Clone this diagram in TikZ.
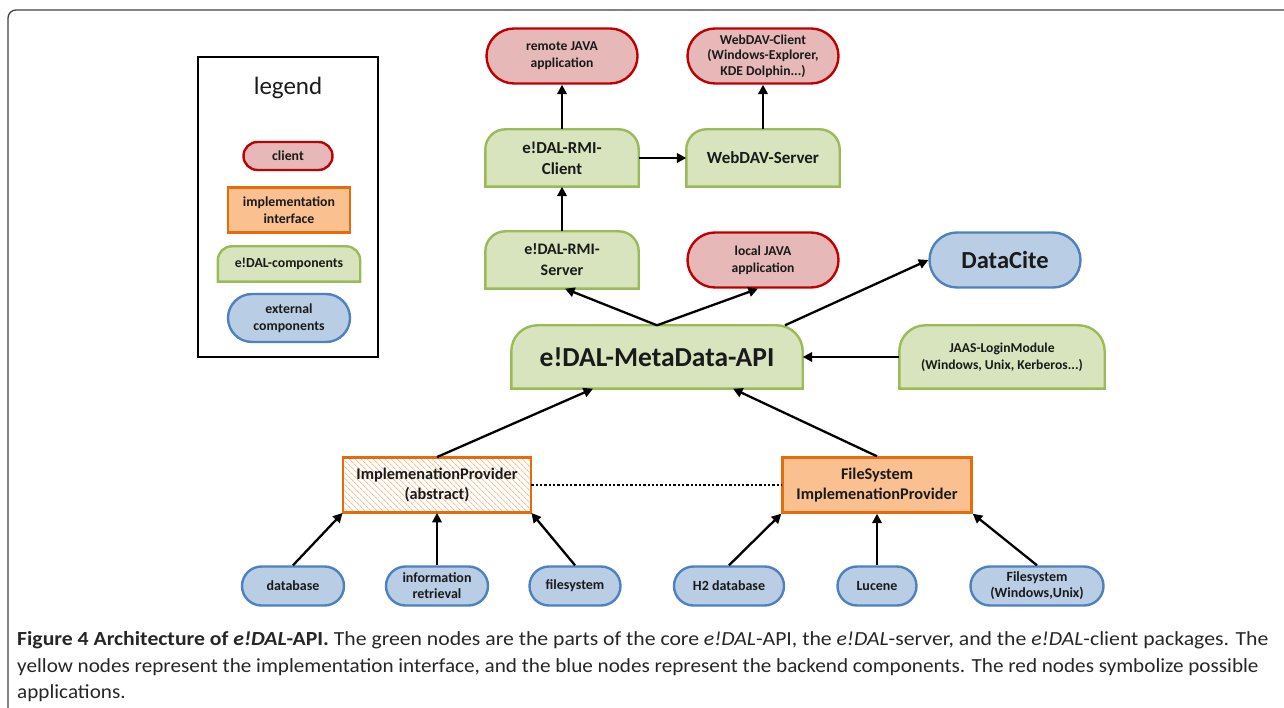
\documentclass[tikz,border=0pt]{standalone}
\usepackage{fontspec}
\setmainfont{Carlito}
\newfontfamily\capfont{Carlito}[FakeStretch=1.085]
\newfontfamily\capfontb{Carlito}[FakeStretch=1.058]
\usetikzlibrary{shapes.misc,arrows.meta,backgrounds,patterns.meta}
\definecolor{redF}{HTML}{E6B9B8}\definecolor{redD}{HTML}{C00000}
\definecolor{orF}{HTML}{FAC090}\definecolor{orD}{HTML}{E46C0A}
\definecolor{grF}{HTML}{D7E4BD}\definecolor{grD}{HTML}{9BBB59}
\definecolor{blF}{HTML}{B9CDE5}\definecolor{blD}{HTML}{4F81BD}
\definecolor{txt}{HTML}{1A1A1A}
\tikzset{
 base/.style={align=center,font=\bfseries,text=txt,inner sep=0pt,line width=2.4pt},
 client/.style={base,rounded rectangle,draw=redD,fill=redF},
 extc/.style={base,rounded rectangle,draw=blD,fill=blF},
 impl/.style={base,rectangle,draw=orD,fill=orF},
 comp/.style={base,rectangle},
 gshape/.style={draw=grD,fill=grF,line width=2.4pt},
 arr/.style={line width=2.3pt,-{Triangle[length=9.5pt,width=9.5pt]}},
 sz/.style 2 args={minimum width=#1pt,minimum height=#2pt},
 captxt/.style={anchor=base west,inner sep=0pt,text=black!85},
}
\newcommand\gfs[2]{\fontsize{#1}{#2}\selectfont}
\begin{document}
\begin{tikzpicture}[x=1pt,y=1pt]
\useasboundingbox (0,0) rectangle (1284,707);
\draw[black!75,line width=1.3pt] (8,-5) -- (8,689) arc[start angle=180,end angle=90,radius=8] -- (1290,697);
% legend
\draw[line width=2pt] (198,650) rectangle (378,350);
\node[font=\gfs{25}{28},text=txt] (lt) at (288,619) {legend};
\node[client,sz={89}{28},font=\bfseries\gfs{13.8}{16}] (lc) at (288,551) {client};
\node[impl,sz={122}{45},font=\bfseries\gfs{13.8}{16.5}] (li) at (289,497) {implementation\\interface};
\node[comp,sz={140}{33},font=\bfseries\gfs{13.8}{16}] (lg) at (289,443) {e!DAL-components};
\node[extc,sz={122}{48},font=\bfseries\gfs{13.8}{16.5}] (le) at (289,389) {external\\components};
% top
\node[client,sz={151}{55},font=\bfseries\gfs{13.6}{17}] (remote) at (562,651) {remote JAVA\\application};
\node[client,sz={151}{55},font=\bfseries\gfs{13.6}{15.5}] (wdc) at (763,651) {WebDAV-Client\\(Windows-Explorer,\\KDE Dolphin...)};
\node[comp,sz={151}{55},font=\bfseries\gfs{16.8}{21}] (rmic) at (562,549) {e!DAL-RMI-\\Client};
\node[comp,sz={151}{55},font=\bfseries\gfs{17}{21}] (wds) at (763,549) {WebDAV-Server};
\node[comp,sz={151}{55},font=\bfseries\gfs{16}{21}] (rmis) at (562,447) {e!DAL-RMI-\\Server};
\node[client,sz={151}{55},font=\bfseries\gfs{13.6}{17}] (local) at (763,447) {local JAVA\\application};
\node[comp,sz={289}{61},font=\bfseries\gfs{27.5}{30}] (meta) at (657,350) {e!DAL-MetaData-API};
\node[extc,sz={151}{55},font=\bfseries\gfs{24.5}{28}] (dc) at (1005,447) {DataCite};
\node[comp,sz={203}{61},font=\bfseries\gfs{13.6}{17}] (jaas) at (1002,350) {JAAS-LoginModule\\(Windows, Unix, Kerberos...)};
% providers
\node[impl,fill=none,sz={188}{55},font=\bfseries\gfs{16.3}{20},
  pattern={Lines[angle=-45,distance=4pt,line width=0.9pt]},pattern color=orF] (ip) at (437,222) {ImplemenationProvider\\(abstract)};
\node[impl,sz={189}{55},font=\bfseries\gfs{16.3}{20}] (fsp) at (877,222) {FileSystem\\ImplemenationProvider};
% bottom
\node[extc,sz={102}{39},font=\bfseries\gfs{14}{16}] (db) at (293,121) {database};
\node[extc,sz={102}{39},font=\bfseries\gfs{14}{16}] (ir) at (437,121) {information\\retrieval};
\node[extc,sz={91}{39},font=\bfseries\gfs{14}{16}] (fs) at (575,121) {filesystem};
\node[extc,sz={110}{39},font=\bfseries\gfs{14}{16}] (h2) at (729,121) {H2 database};
\node[extc,sz={79}{39},font=\bfseries\gfs{14}{16}] (luc) at (877,121) {Lucene};
\node[extc,sz={133}{39},font=\bfseries\gfs{14}{16}] (fsw) at (1037,121) {Filesystem\\(Windows,Unix)};
% green shapes
\begin{scope}[on background layer]
\foreach \n/\rr in {lg/14,rmic/20,wds/20,rmis/20,meta/26,jaas/26}{
 \draw[gshape] (\n.south west) -- ([yshift=-\rr pt]\n.north west) arc[start angle=180,end angle=90,radius=\rr pt]
   -- ([xshift=-\rr pt]\n.north east) arc[start angle=90,end angle=0,radius=\rr pt] -- (\n.south east) -- cycle;
}
\end{scope}
% connectors
\draw[arr] (rmic) -- (remote);
\draw[arr] (wds) -- (wdc);
\draw[arr] (rmic) -- (wds);
\draw[arr] (rmis) -- (rmic);
\draw[arr] (meta.north) -- ([xshift=3pt]rmis.south);
\draw[arr] (meta.north) -- ([xshift=-5pt]local.south);
\draw[arr] ([xshift=128pt]meta.north) -- (dc.west);
\draw[arr] (jaas.west) -- (meta.east);
\draw[arr] (ip.north) -- ([xshift=-64pt]meta.south);
\draw[arr] (fsp.north) -- ([xshift=76pt]meta.south);
\draw[line width=2.3pt,dotted] (ip.east) -- (fsp.west);
\draw[arr] (db.north) -- (ip.south west);
\draw[arr] (ir.north) -- (ip.south);
\draw[arr] (fs.north) -- (ip.south east);
\draw[arr] (h2.north) -- (fsp.south west);
\draw[arr] (luc.north) -- (fsp.south);
\draw[arr] (fsw.north) -- (fsp.south east);
% caption
\node[captxt,font=\capfont\fontsize{20}{24}\selectfont] (c1) at (17,62) {\textbf{Figure 4 Architecture of \textit{e!DAL}-API.} The green nodes are the parts of the core \textit{e!DAL}-API, the \textit{e!DAL}-server, and the \textit{e!DAL}-client packages. The};
\node[captxt,font=\capfontb\fontsize{20}{24}\selectfont] (c2) at (17,35) {yellow nodes represent the implementation interface, and the blue nodes represent the backend components. The red nodes symbolize possible};
\node[captxt,font=\capfontb\fontsize{20}{24}\selectfont] (c3) at (17,9) {applications.};
\end{tikzpicture}
\end{document}
